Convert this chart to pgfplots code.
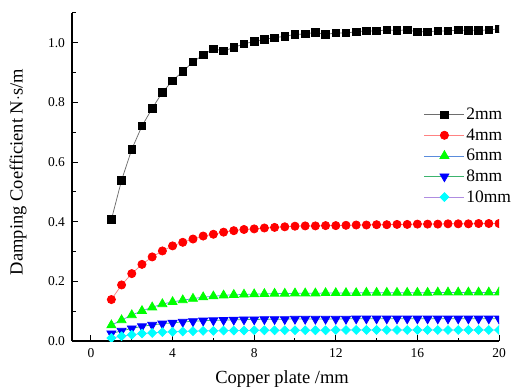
\documentclass[border=0pt]{standalone}
\usepackage{pgfplots}
\pgfplotsset{compat=1.18}
\usepackage{fontspec}
\setmainfont{Liberation Serif}
\definecolor{l2}{RGB}{110,110,110}
\definecolor{l4}{RGB}{255,130,130}
\definecolor{l6}{RGB}{90,140,220}
\definecolor{l8}{RGB}{60,180,110}
\definecolor{l10}{RGB}{175,140,225}
\definecolor{mred}{RGB}{255,0,0}
\definecolor{mgreen}{RGB}{0,255,0}
\definecolor{mblue}{RGB}{0,0,255}
\definecolor{mcyan}{RGB}{0,255,255}
\begin{document}
\begin{tikzpicture}
\begin{axis}[
  scale only axis, width=427bp, height=328bp,
  xmin=-0.93, xmax=20, ymin=0, ymax=1.1,
  axis x line*=bottom, axis y line*=left,
  axis line style={-, line width=1.1bp},
  tick align=inside,
  major tick length=6bp, minor tick length=3.5bp,
  every tick/.style={black, line width=1bp},
  xtick={0,4,8,12,16,20}, minor xtick={2,6,10,14,18},
  ytick={0,0.2,0.4,0.6,0.8,1.0}, minor ytick={0.1,0.3,0.5,0.7,0.9,1.1},
  yticklabel style={/pgf/number format/fixed, /pgf/number format/fixed zerofill, /pgf/number format/precision=1, xshift=-3.5bp},
  xticklabel style={yshift=-4bp},
  /pgf/number format/assume math mode=true,
  tick label style={font=\fontsize{13.5bp}{15bp}\selectfont},
  label style={font=\fontsize{18.5bp}{21bp}\selectfont},
  xlabel={Copper plate /mm},
  ylabel={Damping Coefficient N$\cdot$s/m},
  xlabel style={at={(axis description cs:0.492,-0.116)}, anchor=center},
  ylabel style={at={(axis description cs:-0.126,0.515)}, anchor=center},
  clip marker paths=true,
  legend cell align=left,
  legend image code/.code={\draw[mark repeat=2,mark phase=2] plot coordinates {(0bp,0bp) (20bp,0bp) (40bp,0bp)};},
  legend style={draw=none, fill=none, at={(axis description cs:0.817,0.7226)}, anchor=north west,
    font=\fontsize{17.5bp}{20bp}\selectfont, row sep=3.6bp,
    nodes={inner sep=1.5bp, text height=12bp, text depth=2bp}},
]
\addplot[l2, line width=0.75bp, mark=square*, mark size=3.8bp, mark options={solid, fill=black, draw=black}] coordinates {
(1,0.407)(1.5,0.539)(2,0.643)(2.5,0.721)(3,0.78)(3.5,0.834)(4,0.873)(4.5,0.904)(5,0.936)(5.5,0.959)
(6,0.98)(6.5,0.973)(7,0.984)(7.5,0.997)(8,1.004)(8.5,1.012)(9,1.017)(9.5,1.022)(10,1.028)(10.5,1.03)
(11,1.035)(11.5,1.028)(12,1.033)(12.5,1.033)(13,1.037)(13.5,1.04)(14,1.04)(14.5,1.043)(15,1.042)(15.5,1.043)
(16,1.037)(16.5,1.037)(17,1.04)(17.5,1.04)(18,1.043)(18.5,1.042)(19,1.042)(19.5,1.043)(20,1.047)};
\addlegendentry{2mm}
\addplot[l4, line width=0.75bp, mark=*, mark size=4.1bp, mark options={solid, fill=mred, draw=mred}] coordinates {
(1,0.139)(1.5,0.188)(2,0.226)(2.5,0.257)(3,0.282)(3.5,0.302)(4,0.319)(4.5,0.331)(5,0.342)(5.5,0.352)
(6,0.358)(6.5,0.365)(7,0.37)(7.5,0.374)(8,0.376)(8.5,0.379)(9,0.381)(9.5,0.383)(10,0.385)(10.5,0.386)
(11,0.386)(11.5,0.387)(12,0.387)(12.5,0.388)(13,0.389)(13.5,0.389)(14,0.390)(14.5,0.390)(15,0.391)(15.5,0.391)
(16,0.392)(16.5,0.392)(17,0.392)(17.5,0.393)(18,0.393)(18.5,0.393)(19,0.394)(19.5,0.394)(20,0.394)};
\addlegendentry{4mm}
\addplot[l6, line width=0.75bp, mark=triangle*, mark size=5.2bp, mark options={solid, fill=mgreen, draw=mgreen}] coordinates {
(1,0.053)(1.5,0.070)(2,0.087)(2.5,0.101)(3,0.113)(3.5,0.124)(4,0.131)(4.5,0.137)(5,0.142)(5.5,0.147)
(6,0.150)(6.5,0.153)(7,0.155)(7.5,0.156)(8,0.157)(8.5,0.158)(9,0.159)(9.5,0.159)(10,0.160)(10.5,0.160)
(11,0.160)(11.5,0.161)(12,0.161)(12.5,0.161)(13,0.161)(13.5,0.162)(14,0.162)(14.5,0.162)(15,0.162)(15.5,0.162)
(16,0.162)(16.5,0.162)(17,0.163)(17.5,0.163)(18,0.163)(18.5,0.163)(19,0.163)(19.5,0.163)(20,0.163)};
\addlegendentry{6mm}
\addplot[l8, line width=0.75bp, mark=triangle*, mark size=5.2bp, mark options={solid, rotate=180, fill=mblue, draw=mblue}] coordinates {
(1,0.025)(1.5,0.034)(2,0.042)(2.5,0.049)(3,0.054)(3.5,0.058)(4,0.061)(4.5,0.064)(5,0.066)(5.5,0.068)
(6,0.069)(6.5,0.070)(7,0.071)(7.5,0.072)(8,0.072)(8.5,0.073)(9,0.073)(9.5,0.073)(10,0.074)(10.5,0.074)
(11,0.074)(11.5,0.074)(12,0.074)(12.5,0.074)(13,0.075)(13.5,0.075)(14,0.075)(14.5,0.075)(15,0.075)(15.5,0.075)
(16,0.075)(16.5,0.075)(17,0.075)(17.5,0.075)(18,0.075)(18.5,0.075)(19,0.075)(19.5,0.075)(20,0.075)};
\addlegendentry{8mm}
\addplot[l10, line width=0.75bp, mark=square*, mark size=3.1bp, mark options={solid, rotate=45, fill=mcyan, draw=mcyan}] coordinates {
(1,0.010)(1.5,0.016)(2,0.021)(2.5,0.025)(3,0.027)(3.5,0.030)(4,0.031)(4.5,0.032)(5,0.033)(5.5,0.034)
(6,0.034)(6.5,0.035)(7,0.035)(7.5,0.035)(8,0.036)(8.5,0.036)(9,0.036)(9.5,0.036)(10,0.036)(10.5,0.036)
(11,0.036)(11.5,0.036)(12,0.037)(12.5,0.037)(13,0.037)(13.5,0.037)(14,0.037)(14.5,0.037)(15,0.037)(15.5,0.037)
(16,0.037)(16.5,0.037)(17,0.037)(17.5,0.037)(18,0.037)(18.5,0.037)(19,0.037)(19.5,0.037)(20,0.037)};
\addlegendentry{10mm}
\coordinate (bl) at (rel axis cs:0,0);
\coordinate (tr) at (rel axis cs:1,1);
\end{axis}
\pgfresetboundingbox
\path ([shift={(-72bp,-48bp)}]bl) rectangle ([shift={(18bp,13bp)}]tr);
\end{tikzpicture}
\end{document}
